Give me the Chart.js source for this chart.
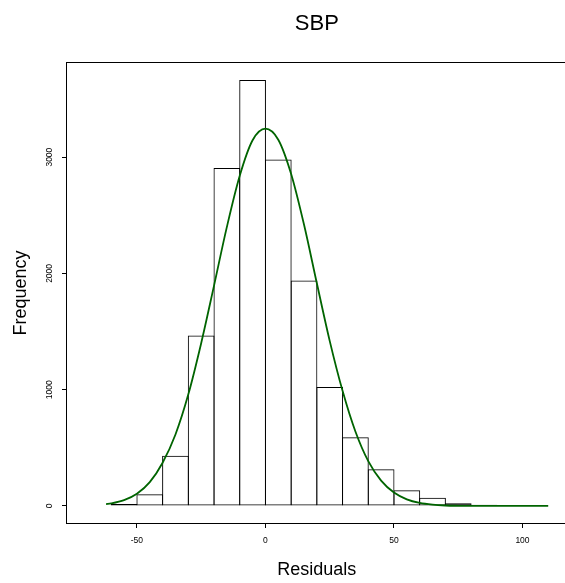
<!DOCTYPE html>
<html>
<head>
<meta charset="utf-8">
<title>SBP</title>
<script src="https://cdn.jsdelivr.net/npm/chart.js@4.4.1/dist/chart.umd.min.js"></script>
<style>
    html, body { margin: 0; padding: 0; background: #fff; overflow: hidden; }
    #sbp-hist { display: block; }
</style>
</head>
<body>
<canvas id="sbp-hist" width="570" height="583"></canvas>
<script>
/* ── SBP 残差直方图 + 正态曲线 ── */

// 直方图: 组中值 (组宽 10) 与频数
const binCenters = [-65, -55, -45, -35, -25, -15, -5, 5, 15, 25, 35, 45, 55, 65, 75, 85, 95, 105];
const binCounts  = [5, 17, 100, 432, 1465, 2907, 3663, 2979, 1940, 1024, 590, 315, 135, 71, 23, 11, 5, 2];

// 正态曲线
const curveX = [-62, -60, -55, -50, -45, -40, -35, -30, -25, -20, -15, -10, -5, 0,
                5, 10, 15, 20, 25, 30, 35, 40, 45, 50, 55, 60, 65, 70, 75, 80, 90, 100, 110];
const curveY = [16, 22, 50, 105, 205, 372, 615, 960, 1400, 1895, 2400, 2840, 3145, 3245,
                3150, 2855, 2420, 1915, 1420, 990, 640, 385, 218, 115, 57, 26, 11, 4, 1.5, 0.5, 0, 0, 0];

// 坐标轴刻度
const xTicks = [-50, 0, 50, 100];
const yTicks = [0, 1000, 2000, 3000];

const FONT = "'Liberation Sans', Arial, Helvetica, sans-serif";

// R 风格的外框
const boxPlugin = {
    id: 'rBox',
    afterDraw(chart) {
        const { ctx, chartArea: a } = chart;
        const l = Math.round(a.left), t = Math.round(a.top);
        const r = Math.round(a.right), b = Math.round(a.bottom);
        ctx.save();
        ctx.strokeStyle = '#000';
        ctx.lineWidth = 1;
        ctx.strokeRect(l - 0.5, t - 0.5, r - l + 1, b - t + 1);
        ctx.restore();
    },
};

const tickGrid = { drawOnChartArea: false, drawTicks: true, tickLength: 5, color: '#000', lineWidth: 1, offset: false };
const plainLabel = v => String(v);

new Chart(document.getElementById('sbp-hist').getContext('2d'), {
    type: 'bar',
    data: {
        datasets: [
            {
                type: 'line',
                label: 'Normal',
                data: curveX.map((x, i) => ({ x, y: curveY[i] })),
                borderColor: '#006400',
                borderWidth: 1.8,
                pointRadius: 0,
                fill: false,
                cubicInterpolationMode: 'monotone',
                xAxisID: 'x',
                yAxisID: 'y',
                order: 1,
            },
            {
                type: 'bar',
                label: 'Residuals',
                data: binCenters.map((x, i) => ({ x, y: binCounts[i] })),
                backgroundColor: 'rgba(0,0,0,0)',
                borderColor: '#000',
                borderWidth: 1,
                borderSkipped: false,
                barPercentage: 1.04,
                categoryPercentage: 1,
                xAxisID: 'x',
                yAxisID: 'y',
                order: 2,
            },
        ],
    },
    options: {
        responsive: false,
        animation: false,
        devicePixelRatio: 1,
        layout: { padding: { left: 0, right: 3.3, top: 0, bottom: 0 } },
        plugins: {
            legend: { display: false },
            tooltip: { enabled: false },
        },
        scales: {
            x: {
                type: 'linear',
                min: -77.2,
                max: 117.2,
                offset: false,
                afterBuildTicks: s => { s.ticks = xTicks.map(v => ({ value: v })); },
                afterFit: s => { s.height = 60; },
                border: { display: false },
                grid: tickGrid,
                ticks: { callback: plainLabel, font: { family: FONT, size: 8.5 }, color: '#000', padding: 7.5, minRotation: 0, maxRotation: 0, autoSkip: false },
                title: { display: true, text: 'Residuals', color: '#000', font: { family: FONT, size: 18 }, padding: { top: 0, bottom: 2.4 } },
            },
            x2: {
                type: 'linear',
                position: 'top',
                offset: false,
                afterFit: s => { s.height = 63; },
                border: { display: false },
                grid: { display: false },
                ticks: { display: false },
                title: { display: true, text: 'SBP', color: '#000', font: { family: FONT, size: 22 }, padding: { top: 11, bottom: 0 } },
            },
            y: {
                type: 'linear',
                min: -146.5,
                max: 3809.5,
                afterBuildTicks: s => { s.ticks = yTicks.map(v => ({ value: v })); },
                afterFit: s => { s.width = 67; },
                border: { display: false },
                grid: tickGrid,
                ticks: { callback: plainLabel, font: { family: FONT, size: 8.5 }, color: '#000', padding: 3, minRotation: 90, maxRotation: 90, crossAlign: 'center', autoSkip: false },
                title: { display: true, text: 'Frequency', color: '#000', font: { family: FONT, size: 18 }, padding: { top: 10, bottom: 0 } },
            },
        },
    },
    plugins: [boxPlugin],
});
</script>
</body>
</html>
